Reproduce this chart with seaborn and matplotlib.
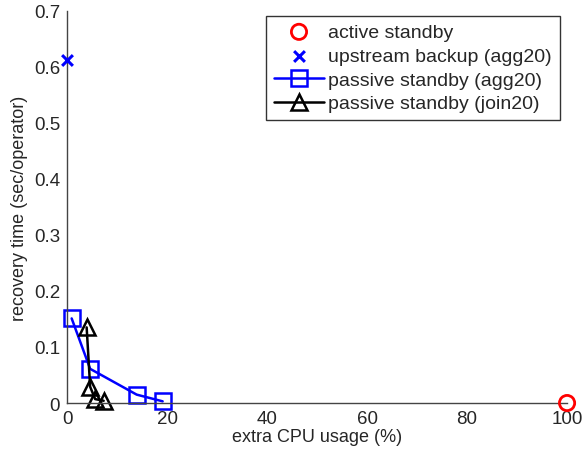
import numpy as np
import pandas as pd
import seaborn as sns
import matplotlib
matplotlib.use("Agg")
import matplotlib.pyplot as plt

# data
active_x = [100]
active_y = [0.0]
upstream_x = [0]
upstream_y = [0.613]
agg_x = [0.9, 4.6, 13.9, 19.1]
agg_y = [0.151, 0.061, 0.015, 0.003]
join_x = [3.9, 4.6, 5.6, 7.3]
join_y = [0.135, 0.029, 0.007, 0.004]

sns.set_style("white")
plt.rcParams['font.family'] = ['Liberation Sans', 'DejaVu Sans']
plt.rcParams['xtick.direction'] = 'in'
plt.rcParams['ytick.direction'] = 'in'

fig = plt.figure(figsize=(5.84, 4.56), dpi=100)
ax = fig.add_axes([0.115, 0.114, 0.856, 0.86])

sns.scatterplot(x=active_x, y=active_y, ax=ax, marker='o', s=120,
                facecolor='none', edgecolor='red', linewidth=2,
                label='active standby', clip_on=False, zorder=5)
sns.scatterplot(x=upstream_x, y=upstream_y, ax=ax, marker='x', s=60,
                color='blue', linewidth=2.2, label='upstream backup (agg20)',
                clip_on=False, zorder=5)
ax.plot(agg_x, agg_y, color='blue', lw=1.8, marker='s', ms=11,
        mfc='none', mew=1.8, label='passive standby (agg20)', clip_on=False)
ax.plot(join_x, join_y, color='black', lw=1.8, marker='^', ms=12,
        mfc='none', mew=1.8, label='passive standby (join20)', clip_on=False)

ax.set_xlim(0, 100)
ax.set_ylim(0, 0.7)
ax.set_xticks(np.arange(0, 101, 20))
ax.set_yticks(np.arange(0, 0.71, 0.1))
ax.set_yticklabels(['0', '0.1', '0.2', '0.3', '0.4', '0.5', '0.6', '0.7'])
ax.tick_params(labelsize=13.5, length=4, pad=5, color='#444444')
ax.set_xlabel('extra CPU usage (%)', fontsize=13, labelpad=1)
ax.set_ylabel('recovery time (sec/operator)', fontsize=13, labelpad=4)
sns.despine(ax=ax)
for s in ['left', 'bottom']:
    ax.spines[s].set_color('#444444')
    ax.spines[s].set_linewidth(1)

leg = ax.legend(loc='upper right', bbox_to_anchor=(0.985, 0.988), fontsize=14,
                frameon=True, fancybox=False, edgecolor='black',
                handlelength=2.6, borderpad=0.4, labelspacing=0.32,
                handletextpad=0.2, borderaxespad=0)
leg.get_frame().set_linewidth(1)

fig.savefig('out.png', dpi=100)
